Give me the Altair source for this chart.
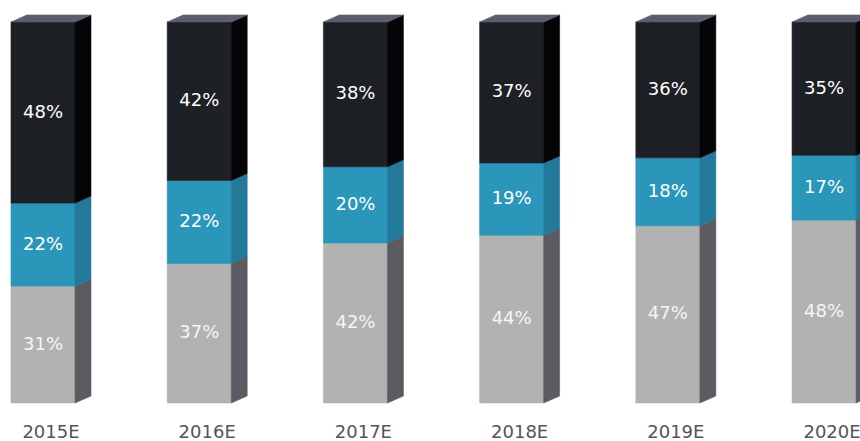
import altair as alt
import pandas as pd

# Shares per year, stacked bottom (base) -> middle (mid) -> top (top)
years = ["2015E", "2016E", "2017E", "2018E", "2019E", "2020E"]
top_share = [48, 42, 38, 37, 36, 35]
mid_share = [22, 22, 20, 19, 18, 17]
base_share = [31, 37, 42, 44, 47, 48]

# Face colours of the extruded columns
FRONT = {"base": "#b2b2b2", "mid": "#2996ba", "top": "#1d2024"}
SIDE = {"base": "#5b5b61", "mid": "#23799a", "top": "#050507"}
LID = "#5d5c70"
LABEL = {"base": "#f6f6f6", "mid": "#ffffff", "top": "#ffffff"}

# Geometry in slot units (one slot per year) and in stacked-fraction units
BAR_W = 0.41
DEPTH_X = 0.102
DEPTH_Y = 0.0184
X_DOMAIN = [-0.0704, 5.435]
Y_DOMAIN = [-0.0997, 1.0577]
YEAR_Y = -0.0800

front_rows, side_rows, lid_rows, label_rows, year_rows = [], [], [], [], []
for i, year in enumerate(years):
    parts = [("base", base_share[i]), ("mid", mid_share[i]), ("top", top_share[i])]
    total = sum(v for _, v in parts)
    lo = 0.0
    for seg, v in parts:
        hi = lo + v / total
        front_rows.append({"x0": i, "x1": i + BAR_W, "lo": lo, "hi": hi, "fill": FRONT[seg]})
        key = f"{year}-{seg}"
        side_rows.append({"x": i + BAR_W, "lo": lo, "hi": hi, "key": key, "fill": SIDE[seg]})
        side_rows.append({"x": i + BAR_W + DEPTH_X, "lo": lo + DEPTH_Y, "hi": hi + DEPTH_Y,
                          "key": key, "fill": SIDE[seg]})
        label_rows.append({"x": i + BAR_W / 2, "y": (lo + hi) / 2,
                           "text": f"{v}%", "color": LABEL[seg]})
        lo = hi
    lid_rows.append({"y": 1.0, "xa": i, "xb": i + BAR_W, "bar": year})
    lid_rows.append({"y": 1.0 + DEPTH_Y, "xa": i + DEPTH_X, "xb": i + BAR_W + DEPTH_X, "bar": year})
    year_rows.append({"x": i + (BAR_W + DEPTH_X) / 2, "y": YEAR_Y, "text": year})

xs = alt.Scale(domain=X_DOMAIN, nice=False, zero=False)
ys = alt.Scale(domain=Y_DOMAIN, nice=False, zero=False)

front = alt.Chart(pd.DataFrame(front_rows)).mark_rect(strokeWidth=0.6).encode(
    x=alt.X("x0:Q", scale=xs, axis=None),
    x2="x1:Q",
    y=alt.Y("lo:Q", scale=ys, axis=None),
    y2="hi:Q",
    fill=alt.Fill("fill:N", scale=None),
    stroke=alt.Stroke("fill:N", scale=None),
)

side = alt.Chart(pd.DataFrame(side_rows)).mark_area(orient="vertical", strokeWidth=0.6).encode(
    x=alt.X("x:Q", scale=xs, axis=None),
    y=alt.Y("lo:Q", scale=ys, axis=None),
    y2="hi:Q",
    detail="key:N",
    fill=alt.Fill("fill:N", scale=None),
    stroke=alt.Stroke("fill:N", scale=None),
)

lid = alt.Chart(pd.DataFrame(lid_rows)).mark_area(
    orient="horizontal", color=LID, stroke=LID, strokeWidth=0.6
).encode(
    y=alt.Y("y:Q", scale=ys, axis=None),
    x=alt.X("xa:Q", scale=xs, axis=None),
    x2="xb:Q",
    detail="bar:N",
)

labels = alt.Chart(pd.DataFrame(label_rows)).mark_text(
    font="DejaVu Sans", fontSize=18, align="center", baseline="middle"
).encode(
    x=alt.X("x:Q", scale=xs, axis=None),
    y=alt.Y("y:Q", scale=ys, axis=None),
    text="text:N",
    color=alt.Color("color:N", scale=None),
)

year_labels = alt.Chart(pd.DataFrame(year_rows)).mark_text(
    font="DejaVu Sans", fontSize=18, align="center", baseline="middle", color="#555555"
).encode(
    x=alt.X("x:Q", scale=xs, axis=None),
    y=alt.Y("y:Q", scale=ys, axis=None),
    text="text:N",
)

chart = (
    alt.layer(front, side, lid, labels, year_labels)
    .properties(width=860, height=441, padding=0, autosize="none", background="white")
    .configure_view(stroke=None)
)

chart.save("out.html", embed_options={"renderer": "svg", "actions": False})
